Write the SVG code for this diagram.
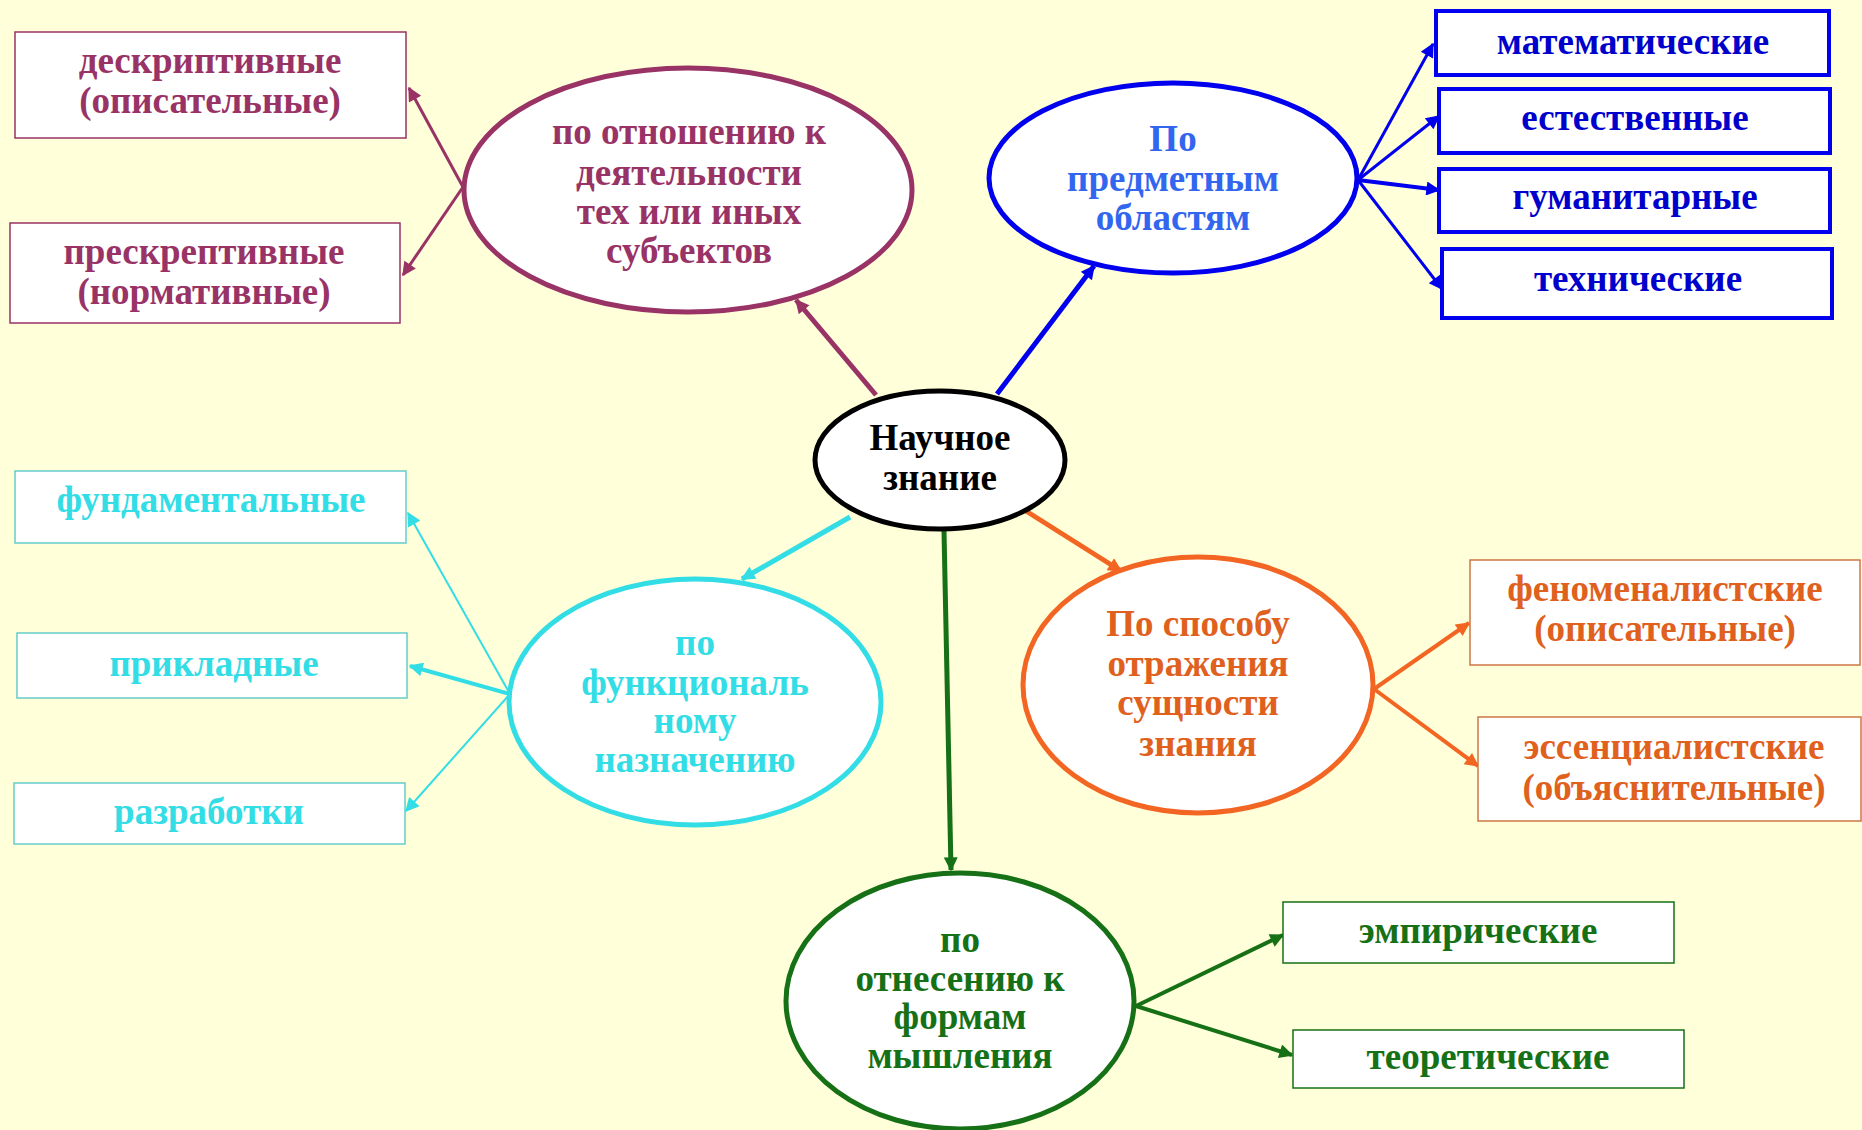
<svg xmlns="http://www.w3.org/2000/svg" width="1862" height="1130" viewBox="0 0 1862 1130">
<style>
text{font-family:"Liberation Serif","Times New Roman",serif;font-weight:bold;font-size:37px;text-anchor:middle}
.box{fill:#fff}
.ell{fill:#fff;stroke-width:5}
.con{fill:none}
</style>
<defs>
<marker id="aM" viewBox="0 0 10 10" refX="9" refY="5" markerWidth="16" markerHeight="14" markerUnits="userSpaceOnUse" orient="auto"><path d="M0,0L10,5L0,10z" fill="#993366"/></marker>
<marker id="aB" viewBox="0 0 10 10" refX="9" refY="5" markerWidth="16" markerHeight="14" markerUnits="userSpaceOnUse" orient="auto"><path d="M0,0L10,5L0,10z" fill="#0000EE"/></marker>
<marker id="aC" viewBox="0 0 10 10" refX="9" refY="5" markerWidth="16" markerHeight="14" markerUnits="userSpaceOnUse" orient="auto"><path d="M0,0L10,5L0,10z" fill="#33DDE6"/></marker>
<marker id="aO" viewBox="0 0 10 10" refX="9" refY="5" markerWidth="16" markerHeight="14" markerUnits="userSpaceOnUse" orient="auto"><path d="M0,0L10,5L0,10z" fill="#F26522"/></marker>
<marker id="aG" viewBox="0 0 10 10" refX="9" refY="5" markerWidth="16" markerHeight="14" markerUnits="userSpaceOnUse" orient="auto"><path d="M0,0L10,5L0,10z" fill="#167016"/></marker>
</defs>
<rect width="1862" height="1130" fill="#FFFFD9"/>

<g id="connectors">
<line class="con" x1="876" y1="395" x2="796" y2="300" stroke="#993366" stroke-width="5" marker-end="url(#aM)"/>
<line class="con" x1="463" y1="187" x2="409" y2="88" stroke="#993366" stroke-width="3" marker-end="url(#aM)"/>
<line class="con" x1="463" y1="187" x2="403" y2="275" stroke="#993366" stroke-width="3" marker-end="url(#aM)"/>
<line class="con" x1="997" y1="394" x2="1094" y2="266" stroke="#0000EE" stroke-width="5" marker-end="url(#aB)"/>
<line class="con" x1="1358" y1="180" x2="1433" y2="44" stroke="#0000EE" stroke-width="3" marker-end="url(#aB)"/>
<line class="con" x1="1358" y1="180" x2="1439" y2="116" stroke="#0000EE" stroke-width="3" marker-end="url(#aB)"/>
<line class="con" x1="1358" y1="180" x2="1439" y2="190" stroke="#0000EE" stroke-width="4" marker-end="url(#aB)"/>
<line class="con" x1="1358" y1="180" x2="1442" y2="289" stroke="#0000EE" stroke-width="3" marker-end="url(#aB)"/>
<line class="con" x1="850" y1="517" x2="742" y2="579" stroke="#33DDE6" stroke-width="5" marker-end="url(#aC)"/>
<line class="con" x1="510" y1="694" x2="408" y2="513" stroke="#33DDE6" stroke-width="2" marker-end="url(#aC)"/>
<line class="con" x1="510" y1="694" x2="410" y2="666" stroke="#33DDE6" stroke-width="4" marker-end="url(#aC)"/>
<line class="con" x1="510" y1="694" x2="406" y2="811" stroke="#33DDE6" stroke-width="2" marker-end="url(#aC)"/>
<line class="con" x1="1026" y1="511" x2="1121" y2="571" stroke="#F26522" stroke-width="5" marker-end="url(#aO)"/>
<line class="con" x1="1374" y1="689" x2="1469" y2="623" stroke="#F26522" stroke-width="4" marker-end="url(#aO)"/>
<line class="con" x1="1374" y1="689" x2="1478" y2="766" stroke="#F26522" stroke-width="4" marker-end="url(#aO)"/>
<line class="con" x1="944" y1="531" x2="951" y2="870" stroke="#167016" stroke-width="5" marker-end="url(#aG)"/>
<line class="con" x1="1136" y1="1006" x2="1283" y2="935" stroke="#167016" stroke-width="4" marker-end="url(#aG)"/>
<line class="con" x1="1136" y1="1006" x2="1292" y2="1055" stroke="#167016" stroke-width="4" marker-end="url(#aG)"/>
</g>

<g id="center">
<ellipse class="ell" cx="940" cy="460" rx="125" ry="69" stroke="#000"/>
<text x="940" y="450" fill="#000">Научное</text>
<text x="940" y="490" fill="#000">знание</text>
</g>

<g id="activity">
<ellipse class="ell" cx="688" cy="190" rx="224" ry="122" stroke="#993366"/>
<text fill="#993366"><tspan x="689" y="144">по отношению к</tspan><tspan x="689" y="185">деятельности</tspan><tspan x="689" y="224">тех или иных</tspan><tspan x="689" y="263">субъектов</tspan></text>
</g>
<g id="descr">
<rect class="box" x="15" y="32" width="391" height="106" stroke="#993366" stroke-width="1.5"/>
<text fill="#993366"><tspan x="210" y="73">дескриптивные</tspan><tspan x="210" y="113">(описательные)</tspan></text>
</g>
<g id="prescr">
<rect class="box" x="10" y="223" width="390" height="100" stroke="#993366" stroke-width="1.5"/>
<text fill="#993366"><tspan x="204" y="264">прескрептивные</tspan><tspan x="204" y="304">(нормативные)</tspan></text>
</g>

<g id="subject">
<ellipse class="ell" cx="1173" cy="178" rx="184" ry="95" stroke="#0000EE"/>
<text fill="#3366EE"><tspan x="1173" y="151">По</tspan><tspan x="1173" y="191">предметным</tspan><tspan x="1173" y="230">областям</tspan></text>
</g>
<g id="math"><rect class="box" x="1436" y="11" width="393" height="64" stroke="#0000EE" stroke-width="4"/><text x="1633" y="54" fill="#0000CC">математические</text></g>
<g id="nat"><rect class="box" x="1439" y="89" width="391" height="64" stroke="#0000EE" stroke-width="4"/><text x="1635" y="130" fill="#0000CC">естественные</text></g>
<g id="hum"><rect class="box" x="1439" y="169" width="391" height="63" stroke="#0000EE" stroke-width="4"/><text x="1635" y="209" fill="#0000CC">гуманитарные</text></g>
<g id="tech"><rect class="box" x="1442" y="249" width="390" height="69" stroke="#0000EE" stroke-width="4"/><text x="1638" y="291" fill="#0000CC">технические</text></g>

<g id="function">
<ellipse class="ell" cx="695" cy="702" rx="186" ry="123" stroke="#33DDE6"/>
<text fill="#33DDE6"><tspan x="695" y="655">по</tspan><tspan x="695" y="695">функциональ</tspan><tspan x="695" y="733">ному</tspan><tspan x="695" y="772">назначению</tspan></text>
</g>
<g id="fund"><rect class="box" x="15" y="471" width="391" height="72" stroke="#66CCCC" stroke-width="1.5"/><text x="211" y="512" fill="#33DDE6">фундаментальные</text></g>
<g id="appl"><rect class="box" x="17" y="633" width="390" height="65" stroke="#66CCCC" stroke-width="1.5"/><text x="214" y="676" fill="#33DDE6">прикладные</text></g>
<g id="dev"><rect class="box" x="14" y="783" width="391" height="61" stroke="#66CCCC" stroke-width="1.5"/><text x="209" y="824" fill="#33DDE6">разработки</text></g>

<g id="reflect">
<ellipse class="ell" cx="1198" cy="685" rx="175" ry="128" stroke="#F26522"/>
<text fill="#E0601E"><tspan x="1198" y="636">По способу</tspan><tspan x="1198" y="676">отражения</tspan><tspan x="1198" y="715">сущности</tspan><tspan x="1198" y="756">знания</tspan></text>
</g>
<g id="phen"><rect class="box" x="1470" y="560" width="390" height="105" stroke="#CC7744" stroke-width="1.5"/><text fill="#E0601E"><tspan x="1665" y="601">феноменалистские</tspan><tspan x="1665" y="641">(описательные)</tspan></text></g>
<g id="ess"><rect class="box" x="1478" y="717" width="383" height="104" stroke="#CC7744" stroke-width="1.5"/><text fill="#E0601E"><tspan x="1674" y="759">эссенциалистские</tspan><tspan x="1674" y="800">(объяснительные)</tspan></text></g>

<g id="thinking">
<ellipse class="ell" cx="960" cy="1001" rx="174" ry="128" stroke="#167016"/>
<text fill="#167016"><tspan x="960" y="952">по</tspan><tspan x="960" y="991">отнесению к</tspan><tspan x="960" y="1029">формам</tspan><tspan x="960" y="1068">мышления</tspan></text>
</g>
<g id="emp"><rect class="box" x="1283" y="902" width="391" height="61" stroke="#167016" stroke-width="1.5"/><text x="1478" y="943" fill="#167016">эмпирические</text></g>
<g id="theor"><rect class="box" x="1293" y="1030" width="391" height="58" stroke="#167016" stroke-width="1.5"/><text x="1488" y="1069" fill="#167016">теоретические</text></g>
</svg>
